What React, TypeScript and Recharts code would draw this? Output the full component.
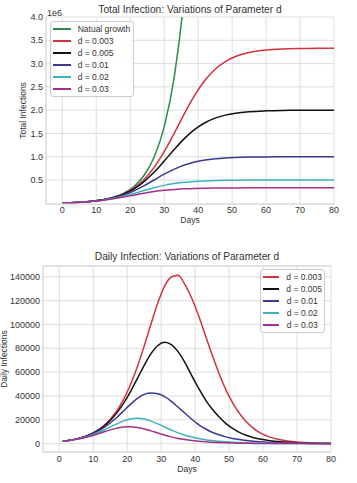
import { LineChart, Line, XAxis, YAxis, CartesianGrid, Legend, ReferenceLine } from 'recharts';

const FONT = "'Liberation Sans', Arial, sans-serif";
const GRID = '#d6d6d6';
const INK = '#333333';

// total infections
const totalDays = [0, 4, 8, 12, 15, 18, 21, 24, 27, 30, 33, 36, 39, 42, 45, 48, 51, 55, 60, 65, 70, 75, 80];
const totalNatural = [10000, 19700, 39000, 76900, 128100, 213300, 355000, 591000, 985000, 1640000, 2730000, 4550000, 7580000, null, null, null, null, null, null, null, null, null, null];
const totalD003 = [10100, 19800, 38900, 76000, 124700, 202600, 324300, 506800, 766800, 1107000, 1509000, 1931000, 2321000, 2641000, 2879000, 3044000, 3152000, 3237000, 3290000, 3313000, 3323000, 3327000, 3329000];
const totalD005 = [10100, 19800, 38700, 74900, 121600, 194700, 304400, 460500, 665000, 906600, 1160000, 1394000, 1586000, 1729000, 1828000, 1893000, 1934000, 1966000, 1985000, 1994000, 1997000, 1999000, 2000000];
const totalD01 = [10100, 19600, 38000, 72400, 115100, 178000, 265000, 375000, 500000, 625000, 735000, 822000, 885000, 928000, 955000, 973000, 983000, 991500, 996000, 998500, 999300, 999700, 1000000];
const totalD02 = [10000, 19300, 36800, 67800, 103500, 151500, 210000, 273300, 333800, 385000, 423900, 451300, 469600, 481300, 488600, 493100, 495800, 497900, 499100, 499600, 499800, 499900, 500000];
const totalD03 = [10100, 19300, 36100, 64400, 95100, 133000, 175000, 216000, 251200, 278600, 298000, 311100, 319500, 324800, 328000, 330000, 331200, 332100, 332700, 332900, 333000, 333000, 333000];

// daily infections, lower panel
const dailyDays = [1, 3, 5, 7, 9, 11, 13, 15, 17, 19, 21, 23, 25, 27, 29, 31, 33, 35, 37, 39, 41, 43, 45, 47, 49, 51, 53, 55, 57, 59, 62, 65, 70, 75, 80];
const dailyD003 = [2020, 2840, 3960, 5540, 7720, 10720, 14840, 20400, 27810, 37490, 49760, 64690, 81920, 100300, 117900, 132100, 139800, 141200, 133300, 122000, 107500, 91000, 74500, 59000, 45500, 34500, 25500, 18500, 13200, 9300, 5500, 3300, 1400, 600, 250];
const dailyD005 = [2020, 2820, 3930, 5470, 7580, 10460, 14320, 19420, 25990, 34170, 43890, 54700, 65690, 75450, 82350, 85000, 83000, 77000, 68000, 57000, 46500, 37000, 29000, 22500, 17000, 12800, 9500, 7000, 5200, 3900, 2500, 1600, 750, 350, 150];
const dailyD01 = [2000, 2780, 3850, 5310, 7270, 9860, 13180, 17310, 22200, 27630, 33120, 37940, 41290, 42500, 41800, 39500, 35500, 30500, 25500, 20500, 16000, 12500, 9600, 7400, 5700, 4400, 3400, 2600, 2000, 1550, 1050, 700, 350, 170, 80];
const dailyD02 = [1960, 2700, 3690, 5000, 6680, 8770, 11230, 13960, 16690, 19070, 20710, 21250, 20590, 18860, 16600, 14000, 11400, 9000, 7100, 5500, 4300, 3300, 2550, 1950, 1500, 1150, 880, 680, 520, 400, 270, 180, 90, 45, 20];
const dailyD03 = [1950, 2660, 3590, 4770, 6230, 7920, 9760, 11550, 13030, 13950, 14110, 13480, 12300, 10700, 8900, 7200, 5700, 4400, 3400, 2600, 2000, 1500, 1150, 880, 670, 510, 390, 300, 230, 175, 120, 80, 40, 20, 10];

const xTicks = [0, 10, 20, 30, 40, 50, 60, 70, 80];
const totalTicks = [500000, 1000000, 1500000, 2000000, 2500000, 3000000, 3500000, 4000000];
const dailyTicks = [0, 20000, 40000, 60000, 80000, 100000, 120000, 140000];

const totalSeries = [
  { key: 'natural', name: 'Natual growth', color: '#2b8a4c' },
  { key: 'd003', name: 'd = 0.003', color: '#d2323e' },
  { key: 'd005', name: 'd = 0.005', color: '#111111' },
  { key: 'd01', name: 'd = 0.01', color: '#3a3a90' },
  { key: 'd02', name: 'd = 0.02', color: '#3db3b8' },
  { key: 'd03', name: 'd = 0.03', color: '#a3308c' },
];
const dailySeries = totalSeries.slice(1);

const totalData = totalDays.map((day, i) => ({
  day,
  natural: totalNatural[i],
  d003: totalD003[i],
  d005: totalD005[i],
  d01: totalD01[i],
  d02: totalD02[i],
  d03: totalD03[i],
}));

const dailyData = dailyDays.map((day, i) => ({
  day,
  d003: dailyD003[i],
  d005: dailyD005[i],
  d01: dailyD01[i],
  d02: dailyD02[i],
  d03: dailyD03[i],
}));

function legendBox(items: { name: string; color: string }[], width: number, lineW: number, gap: number) {
  return () => (
    <div
      style={{
        width,
        boxSizing: 'border-box',
        background: 'rgba(255,255,255,0.85)',
        border: '1px solid #cccccc',
        borderRadius: 3,
        padding: '1px 2px',
        fontFamily: FONT,
        fontSize: 8.5,
        color: INK,
      }}
    >
      {items.map((s) => (
        <div key={s.name} style={{ display: 'flex', alignItems: 'center', height: 12 }}>
          <span style={{ display: 'inline-block', width: lineW, height: 2, background: s.color, marginRight: gap }} />
          <span style={{ whiteSpace: 'nowrap' }}>{s.name}</span>
        </div>
      ))}
    </div>
  );
}

const tickStyle = { fill: INK, fontSize: 9, fontFamily: FONT };
const labelStyle = { fill: INK, fontSize: 8.5, fontFamily: FONT };

export default function App() {
  return (
    <div style={{ position: 'absolute', left: 0, top: 0, width: 357, height: 483, background: '#fff', fontFamily: FONT }}>
      <div style={{ position: 'absolute', left: 46, top: 3.8, width: 288, textAlign: 'center', fontSize: 10.2, lineHeight: '12px', color: INK }}>
        Total Infection: Variations of Parameter d
      </div>
      <div style={{ position: 'absolute', left: 47, top: 7.5, fontSize: 9, lineHeight: '11px', color: INK }}>1e6</div>
      <div style={{ position: 'absolute', left: 0, top: 0 }}>
        <LineChart width={357} height={232} data={totalData} margin={{ top: 17, right: 23, bottom: 0, left: 0 }}>
          <CartesianGrid stroke={GRID} strokeWidth={0.8} />
          <XAxis
            type="number"
            dataKey="day"
            domain={[-4.8, 80]}
            ticks={xTicks}
            height={28}
            tickSize={0}
            tickMargin={3}
            tick={tickStyle}
            axisLine={{ stroke: GRID }}
            label={{ value: 'Days', position: 'insideBottom', offset: 8.6, style: labelStyle }}
          />
          <YAxis
            type="number"
            domain={[-15000, 4000000]}
            allowDataOverflow
            ticks={totalTicks}
            width={46}
            tickSize={0}
            tickMargin={3}
            tick={tickStyle}
            axisLine={{ stroke: GRID }}
            tickFormatter={(v: number) => (v / 1000000).toFixed(1)}
            label={{ value: 'Total Infections', angle: -90, position: 'center', style: labelStyle }}
          />
          {totalSeries.map((s) => (
            <Line
              key={s.key}
              type="monotone"
              dataKey={s.key}
              name={s.name}
              stroke={s.color}
              strokeWidth={1.5}
              dot={false}
              isAnimationActive={false}
            />
          ))}
          <Legend
            layout="horizontal"
            align="center"
            verticalAlign="middle"
            content={legendBox(totalSeries, 84, 18, 6.7)}
            wrapperStyle={{ left: 50, top: 21, width: 84, right: 'auto', bottom: 'auto' }}
          />
        </LineChart>
      </div>

      <div style={{ position: 'absolute', left: 43, top: 251.2, width: 288, textAlign: 'center', fontSize: 10.2, lineHeight: '12px', color: INK }}>
        Daily Infection: Variations of Parameter d
      </div>
      <div style={{ position: 'absolute', left: 0, top: 240 }}>
        <LineChart width={357} height={243} data={dailyData} margin={{ top: 26, right: 26, bottom: 0, left: 0 }}>
          <CartesianGrid stroke={GRID} strokeWidth={0.8} />
          <ReferenceLine y={149000} stroke={GRID} />
          <XAxis
            type="number"
            dataKey="day"
            domain={[-4.8, 80]}
            ticks={xTicks}
            height={31}
            tickSize={0}
            tickMargin={4}
            tick={tickStyle}
            axisLine={{ stroke: GRID }}
            label={{ value: 'Days', position: 'insideBottom', offset: 11, style: labelStyle }}
          />
          <YAxis
            type="number"
            domain={[-7000, 149000]}
            ticks={dailyTicks}
            width={43}
            tickSize={0}
            tickMargin={3}
            tick={tickStyle}
            axisLine={{ stroke: GRID }}
            label={{ value: 'Daily Infections', angle: -90, position: 'center', dx: -17.5, style: labelStyle }}
          />
          {dailySeries.map((s) => (
            <Line
              key={s.key}
              type="monotone"
              dataKey={s.key}
              name={s.name}
              stroke={s.color}
              strokeWidth={1.5}
              dot={false}
              isAnimationActive={false}
            />
          ))}
          <Legend
            layout="horizontal"
            align="center"
            verticalAlign="middle"
            content={legendBox(dailySeries, 65, 16, 7.7)}
            wrapperStyle={{ left: 260, top: 29, width: 65, right: 'auto', bottom: 'auto' }}
          />
        </LineChart>
      </div>
    </div>
  );
}
